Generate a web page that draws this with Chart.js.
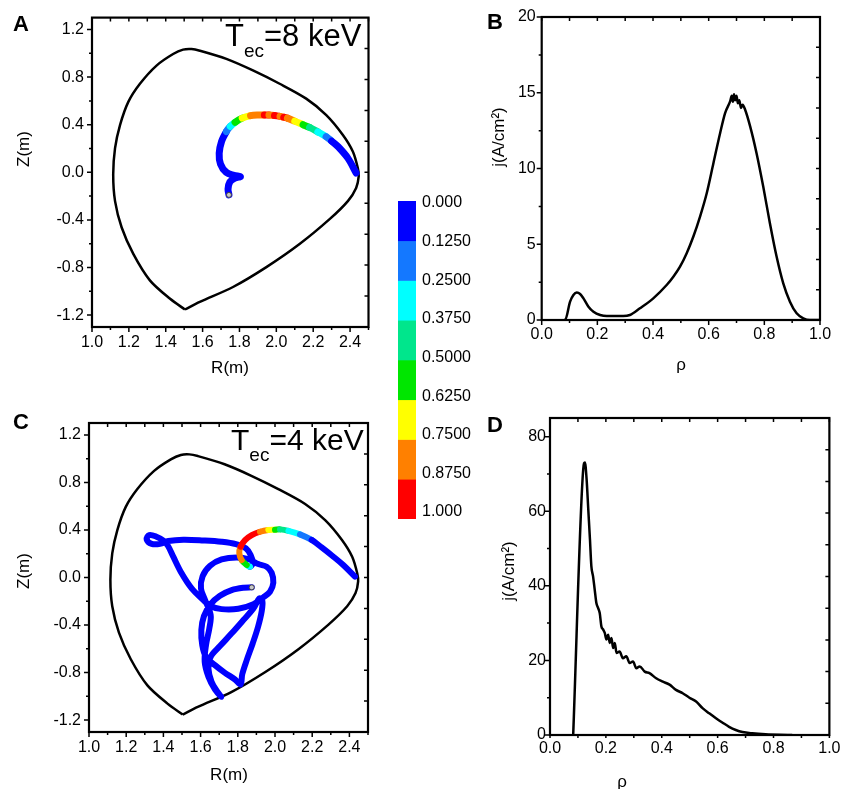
<!DOCTYPE html>
<html>
<head>
<meta charset="utf-8">
<script src="https://cdn.jsdelivr.net/npm/chart.js@4.4.1/dist/chart.umd.min.js"></script>
<style>
  body { margin: 0; background: #fff; }
  #page { position: relative; width: 844px; height: 789px; font-family: 'Liberation Sans', Arial, sans-serif; color: #000; }
  #page canvas { position: absolute; left: 0; top: 0; }
  .tag { position: absolute; font-weight: bold; font-size: 22px; line-height: 1; }
  .tec { position: absolute; font-size: 31px; line-height: 1; white-space: nowrap; }
  .tec span { font-size: 19px; position: relative; top: 11px; }
  .ttl { position: absolute; font-size: 17px; line-height: 1; white-space: nowrap; transform: translate(-50%, -50%); }
  .ttl.rot { transform: translate(-50%, -50%) rotate(-90deg); }
</style>
</head>
<body>
<div id="page">
  <canvas id="chartA" width="844" height="789"></canvas>
  <canvas id="chartB" width="844" height="789"></canvas>
  <canvas id="chartC" width="844" height="789"></canvas>
  <canvas id="chartD" width="844" height="789"></canvas>
  <canvas id="chartBar" width="844" height="789"></canvas>

  <div class="tag" style="left:13px;top:13px">A</div>
  <div class="tag" style="left:487px;top:11px">B</div>
  <div class="tag" style="left:13px;top:411px">C</div>
  <div class="tag" style="left:487px;top:414px">D</div>

  <div class="tec" style="left:225px;top:20px">T<span>ec</span>=8 keV</div>
  <div class="tec" style="left:231px;top:425px;font-size:30px">T<span>ec</span>=4 keV</div>

  <div class="ttl rot" style="left:23px;top:149px">Z(m)</div>
  <div class="ttl" style="left:230px;top:367px">R(m)</div>
  <div class="ttl rot" style="left:498px;top:137px">j(A/cm²)</div>
  <div class="ttl" style="left:681px;top:364px">ρ</div>
  <div class="ttl rot" style="left:23px;top:571px">Z(m)</div>
  <div class="ttl" style="left:229px;top:774px">R(m)</div>
  <div class="ttl rot" style="left:508px;top:571px">j(A/cm²)</div>
  <div class="ttl" style="left:622px;top:781px">ρ</div>
</div>

<script>
Chart.defaults.font.family = "'Liberation Sans', Arial, sans-serif";
Chart.defaults.font.size = 16;
Chart.defaults.color = '#000';

// last closed flux surface, same for A and C (starts and ends at the X-point)
const wallR = [1.504, 1.422, 1.314, 1.224, 1.161, 1.125, 1.115, 1.125, 1.152, 1.197, 1.26, 1.35, 1.44, 1.494, 1.54, 1.585, 1.729, 1.873, 2.018, 2.162, 2.271, 2.361, 2.415, 2.442, 2.447, 2.433, 2.388, 2.289, 2.126, 1.946, 1.765, 1.585, 1.504];
const wallZ = [-1.153, -1.061, -0.908, -0.686, -0.464, -0.242, -0.019, 0.203, 0.397, 0.592, 0.744, 0.897, 0.994, 1.031, 1.036, 1.022, 0.953, 0.856, 0.744, 0.619, 0.481, 0.314, 0.175, 0.036, -0.033, -0.131, -0.242, -0.394, -0.603, -0.797, -0.964, -1.089, -1.153];

// orbit, Tec = 8 keV (from birth point to the wall)
const orbitAR = [1.743, 1.738, 1.748, 1.775, 1.805, 1.77, 1.728, 1.697, 1.69, 1.703, 1.729, 1.75, 1.776, 1.815, 1.86, 1.9, 1.935, 1.96, 1.99, 2.02, 2.04, 2.06, 2.1, 2.145, 2.18, 2.225, 2.27, 2.3, 2.334, 2.388, 2.433];
const orbitAZ = [-0.19, -0.14, -0.08, -0.05, -0.035, -0.025, 0.0, 0.07, 0.16, 0.26, 0.342, 0.385, 0.42, 0.455, 0.476, 0.482, 0.482, 0.481, 0.477, 0.47, 0.463, 0.455, 0.43, 0.40, 0.377, 0.34, 0.30, 0.262, 0.217, 0.119, -0.006];
const orbitAV = [0.05, 0.05, 0.05, 0.05, 0.05, 0.05, 0.05, 0.05, 0.05, 0.05, 0.2, 0.3, 0.55, 0.7, 0.8, 0.8, 0.95, 0.8, 0.95, 0.8, 0.95, 0.8, 0.7, 0.55, 0.45, 0.3, 0.2, 0.05, 0.05, 0.05, 0.05];

// orbit, Tec = 4 keV
const orbitCR = [1.875, 1.830, 1.767, 1.704, 1.654, 1.618, 1.604, 1.609, 1.629, 1.677, 1.731, 1.785, 1.815, 1.824, 1.848, 1.880, 1.909, 1.928, 1.932, 1.916, 1.884, 1.830, 1.767, 1.704, 1.654, 1.642, 1.659, 1.690, 1.711, 1.677, 1.642, 1.622, 1.629, 1.647, 1.654, 1.624, 1.602, 1.611, 1.651, 1.713, 1.794, 1.862, 1.910, 1.955, 1.982, 1.991, 1.973, 1.937, 1.884, 1.803, 1.713, 1.651, 1.615, 1.552, 1.498, 1.453, 1.425, 1.400, 1.360, 1.324, 1.310, 1.337, 1.382, 1.427, 1.507, 1.615, 1.713, 1.790, 1.844, 1.869, 1.880, 1.866, 1.848, 1.821, 1.808, 1.815, 1.839, 1.875, 1.919, 1.964, 2.000, 2.027, 2.072, 2.134, 2.197, 2.251, 2.314, 2.367, 2.430];
const orbitCZ = [-0.083, -0.086, -0.106, -0.153, -0.224, -0.325, -0.442, -0.569, -0.667, -0.737, -0.802, -0.858, -0.900, -0.813, -0.695, -0.555, -0.414, -0.288, -0.198, -0.176, -0.260, -0.358, -0.470, -0.577, -0.667, -0.765, -0.877, -0.961, -1.004, -0.942, -0.835, -0.709, -0.569, -0.428, -0.316, -0.190, -0.092, 0.012, 0.099, 0.152, 0.169, 0.152, 0.113, 0.091, 0.040, -0.044, -0.120, -0.167, -0.224, -0.263, -0.266, -0.240, -0.190, -0.092, 0.035, 0.175, 0.265, 0.310, 0.345, 0.357, 0.321, 0.283, 0.283, 0.307, 0.318, 0.312, 0.301, 0.281, 0.245, 0.189, 0.127, 0.091, 0.105, 0.147, 0.203, 0.259, 0.315, 0.357, 0.385, 0.400, 0.402, 0.405, 0.393, 0.363, 0.316, 0.253, 0.175, 0.105, 0.007];
const orbitCV = [0.05, 0.05, 0.05, 0.05, 0.05, 0.05, 0.05, 0.05, 0.05, 0.05, 0.05, 0.05, 0.05, 0.05, 0.05, 0.05, 0.05, 0.05, 0.05, 0.05, 0.05, 0.05, 0.05, 0.05, 0.05, 0.05, 0.05, 0.05, 0.05, 0.05, 0.05, 0.05, 0.05, 0.05, 0.05, 0.05, 0.05, 0.05, 0.05, 0.05, 0.05, 0.05, 0.05, 0.05, 0.05, 0.05, 0.05, 0.05, 0.05, 0.05, 0.05, 0.05, 0.05, 0.05, 0.05, 0.05, 0.05, 0.05, 0.05, 0.05, 0.05, 0.05, 0.05, 0.05, 0.05, 0.05, 0.05, 0.05, 0.05, 0.05, 0.05, 0.3, 0.55, 0.8, 0.8, 0.95, 0.95, 0.95, 0.8, 0.7, 0.55, 0.45, 0.3, 0.2, 0.05, 0.05, 0.05, 0.05, 0.05];

// current density profiles
const rhoB = [0.08, 0.084, 0.102, 0.114, 0.126, 0.138, 0.150, 0.168, 0.186, 0.210, 0.234, 0.293, 0.317, 0.353, 0.401, 0.449, 0.473, 0.497, 0.521, 0.545, 0.569, 0.593, 0.617, 0.641, 0.659, 0.677, 0.683, 0.687, 0.691, 0.695, 0.700, 0.705, 0.710, 0.716, 0.722, 0.731, 0.749, 0.772, 0.796, 0.820, 0.844, 0.868, 0.892, 0.916, 0.940, 0.964, 1.0];
const jB = [0, 0, 1.21, 1.65, 1.81, 1.72, 1.43, 0.88, 0.55, 0.33, 0.26, 0.26, 0.33, 0.77, 1.43, 2.31, 2.86, 3.52, 4.41, 5.51, 6.83, 8.37, 10.35, 12.33, 13.66, 14.43, 14.8, 14.4, 14.9, 14.5, 14.8, 14.3, 14.5, 14.0, 14.2, 13.88, 12.78, 11.01, 8.81, 6.39, 4.19, 2.42, 1.21, 0.44, 0.11, 0, 0];

const rhoD = [0.083, 0.119, 0.125, 0.131, 0.137, 0.143, 0.148, 0.154, 0.160, 0.166, 0.172, 0.178, 0.184, 0.190, 0.196, 0.202, 0.208, 0.214, 0.220, 0.226, 0.232, 0.238, 0.249, 0.261, 0.273, 0.285, 0.297, 0.309, 0.321, 0.339, 0.356, 0.380, 0.404, 0.428, 0.451, 0.475, 0.499, 0.523, 0.546, 0.570, 0.594, 0.618, 0.641, 0.665, 0.689, 0.724, 0.772, 0.820, 0.867];
const jD = [0, 71.3, 73.1, 68.6, 60.5, 52.5, 45.3, 42.6, 39.0, 35.4, 34.1, 32.7, 29.1, 28.3, 27.4, 25.6, 26.9, 24.7, 26.0, 23.3, 24.7, 22.0, 22.4, 20.6, 21.1, 19.3, 19.7, 17.9, 18.4, 17.0, 16.6, 15.2, 14.3, 13.5, 12.1, 11.2, 10.0, 9.0, 7.2, 5.8, 4.5, 3.3, 2.2, 1.35, 0.8, 0.45, 0.18, 0.05, 0];

// colour bar
const bandColors = ['#0000ff', '#1478ff', '#00ffff', '#00e68c', '#00e600', '#ffff00', '#ff8000', '#ff0000'];
const colorbarLabels = ['0.000', '0.1250', '0.2500', '0.3750', '0.5000', '0.6250', '0.7500', '0.8750', '1.000'];

function bandColor(v) {
  return bandColors[Math.min(7, Math.floor(v * 8))];
}

function toPoints(xs, ys) {
  return xs.map((x, i) => ({ x: x, y: ys[i] }));
}

function eachStep(min, max, step, major, fn) {
  for (let n = Math.ceil(min / step - 1e-6); n * step <= max + 1e-6; n++) {
    const v = n * step;
    const r = v / major;
    fn(v, Math.abs(r - Math.round(r)) < 1e-6);
  }
}

// box frame with Origin style ticks
const framePlugin = {
  id: 'frame',
  afterDraw(chart, args, opts) {
    if (!opts.xMinor) return;
    const { ctx, chartArea: a, scales: { x, y } } = chart;
    ctx.save();
    ctx.strokeStyle = '#000';
    ctx.lineWidth = 1.5;
    ctx.beginPath();
    eachStep(x.min, x.max, opts.xMinor, opts.xMajor, (v, major) => {
      const px = x.getPixelForValue(v);
      ctx.moveTo(px, a.bottom);
      ctx.lineTo(px, a.bottom + (major ? opts.tick : 3));
      ctx.moveTo(px, a.top);
      ctx.lineTo(px, a.top + 4);
    });
    eachStep(y.min, y.max, opts.yMinor, opts.yMajor, (v, major) => {
      const py = y.getPixelForValue(v);
      ctx.moveTo(a.left, py);
      ctx.lineTo(a.left - (major ? 5 : 3), py);
    });
    for (let i = 1; i < 10; i++) {
      const py = a.top + (a.bottom - a.top) * i / 10;
      ctx.moveTo(a.right, py);
      ctx.lineTo(a.right - 4, py);
    }
    ctx.stroke();
    ctx.lineWidth = 2.2;
    ctx.strokeRect(a.left, a.top, a.right - a.left, a.bottom - a.top);
    ctx.restore();
  }
};
Chart.register(framePlugin);

function panelOptions(p) {
  return {
    responsive: false,
    animation: false,
    events: [],
    layout: { padding: { left: p.area.l - 50, right: 844 - p.area.r, top: p.area.t, bottom: 789 - p.area.b - 30 } },
    plugins: { legend: { display: false }, tooltip: { enabled: false }, frame: p.frame },
    scales: {
      x: {
        type: 'linear', min: p.x.min, max: p.x.max,
        afterFit: s => { s.height = 30; },
        grid: { display: false, drawTicks: false },
        border: { display: false },
        ticks: { stepSize: p.x.step, includeBounds: false, autoSkip: false, maxRotation: 0, padding: p.x.gap, callback: p.x.fmt }
      },
      y: {
        type: 'linear', min: p.y.min, max: p.y.max,
        afterFit: s => { s.width = 50; },
        grid: { display: false, drawTicks: false },
        border: { display: false },
        ticks: { stepSize: p.y.step, includeBounds: false, autoSkip: false, padding: p.y.gap, callback: p.y.fmt }
      }
    }
  };
}

const oneDec = v => v.toFixed(1);
const whole = v => String(Math.round(v));

function orbitChart(id, area, orbitR, orbitZ, orbitV, width, xGap) {
  return new Chart(document.getElementById(id), {
    type: 'scatter',
    data: {
      datasets: [
        {
          data: toPoints([orbitR[0]], [orbitZ[0]]),
          pointRadius: 2.5, pointBackgroundColor: '#c8c8c8', pointBorderColor: '#444', pointBorderWidth: 1
        },
        {
          data: toPoints(orbitR, orbitZ),
          showLine: true, pointRadius: 0, borderWidth: width, tension: 0.35,
          borderCapStyle: 'round', borderJoinStyle: 'round',
          borderColor: bandColors[0],
          segment: { borderColor: c => bandColor(orbitV[c.p0DataIndex]) }
        },
        {
          data: toPoints(wallR, wallZ),
          showLine: true, pointRadius: 0, borderWidth: 2.5, tension: 0.3, borderColor: '#000'
        }
      ]
    },
    options: panelOptions({
      area: area,
      frame: { xMinor: 0.1, xMajor: 0.2, yMinor: 0.2, yMajor: 0.4, tick: 5 },
      x: { min: 1.0, max: 2.5, step: 0.2, gap: xGap, fmt: oneDec },
      y: { min: -1.3, max: 1.3, step: 0.4, gap: 8, fmt: oneDec }
    })
  });
}

function profileChart(id, area, rho, j, y, xGap, yGap, tick) {
  return new Chart(document.getElementById(id), {
    type: 'scatter',
    data: {
      datasets: [{
        data: toPoints(rho, j),
        showLine: true, pointRadius: 0, borderWidth: 2.5, borderColor: '#000',
        cubicInterpolationMode: 'monotone'
      }]
    },
    options: panelOptions({
      area: area,
      frame: { xMinor: 0.1, xMajor: 0.2, yMinor: y.minor, yMajor: y.step, tick: tick },
      x: { min: 0, max: 1, step: 0.2, gap: xGap, fmt: oneDec },
      y: { min: 0, max: y.max, step: y.step, gap: yGap, fmt: whole }
    })
  });
}

orbitChart('chartA', { l: 92, r: 368.5, t: 15, b: 327 }, orbitAR, orbitAZ, orbitAV, 7, 6);
orbitChart('chartC', { l: 89, r: 368, t: 423, b: 732 }, orbitCR, orbitCZ, orbitCV, 6, 6);
profileChart('chartB', { l: 541.7, r: 820, t: 17, b: 320 }, rhoB, jB, { max: 20, step: 5, minor: 2.5 }, 4.5, 6, 5);
profileChart('chartD', { l: 550, r: 831, t: 418, b: 735 }, rhoD, jD, { max: 85, step: 20, minor: 10 }, 3.5, 4, 3);

// colour bar with its own label axis
new Chart(document.getElementById('chartBar'), {
  type: 'bar',
  data: {
    labels: [''],
    datasets: bandColors.map(c => ({ data: [1], backgroundColor: c, borderWidth: 0, barPercentage: 1, categoryPercentage: 1 }))
  },
  options: {
    responsive: false,
    animation: false,
    events: [],
    layout: { padding: { left: 398, right: 844 - 416 - 60, top: 201, bottom: 789 - 519 } },
    plugins: { legend: { display: false }, tooltip: { enabled: false } },
    scales: {
      x: { display: false, stacked: true },
      y: { display: false, stacked: true, min: 0, max: 8, reverse: true },
      yl: {
        position: 'right', min: -0.052, max: 8.181, reverse: true,
        afterFit: s => { s.width = 60; },
        grid: { display: false, drawTicks: false },
        border: { display: false },
        ticks: { stepSize: 1, includeBounds: false, autoSkip: false, padding: 6, callback: v => colorbarLabels[v] }
      }
    }
  }
});
</script>
</body>
</html>
